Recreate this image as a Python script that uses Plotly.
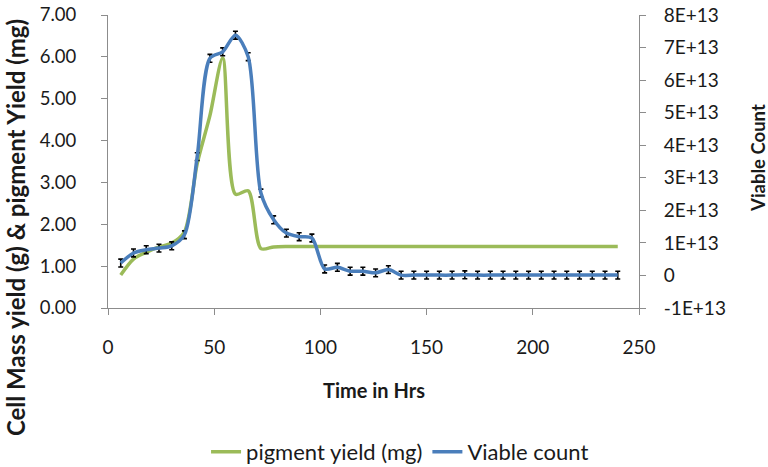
import plotly.graph_objects as go

time_hrs = [6, 12, 18, 24, 30, 36, 42, 48, 54, 60, 66, 72, 78, 84, 90, 96, 102, 108,
            114, 120, 126, 132, 138, 144, 150, 156, 162, 168, 174, 180, 186, 192,
            198, 204, 210, 216, 222, 228, 234, 240]

pigment_yield = [0.79, 1.17, 1.33, 1.46, 1.55, 1.82, 3.45, 4.6, 5.97, 2.72, 2.80, 1.42,
                 1.46, 1.47, 1.47, 1.47, 1.47, 1.47, 1.47, 1.47, 1.47, 1.47, 1.47, 1.47,
                 1.47, 1.47, 1.47, 1.47, 1.47, 1.47, 1.47, 1.47, 1.47, 1.47, 1.47, 1.47,
                 1.47, 1.47, 1.47, 1.47]

viable_count = [0.38e13, 0.69e13, 0.79e13, 0.84e13, 0.91e13, 1.25e13, 3.65e13, 6.67e13,
                6.87e13, 7.38e13, 6.72e13, 2.53e13, 1.71e13, 1.30e13, 1.19e13, 1.15e13,
                0.20e13, 0.25e13, 0.13e13, 0.13e13, 0.08e13, 0.18e13, 0.01e13, 0.01e13,
                0.01e13, 0.01e13, 0.01e13, 0.02e13, 0.01e13, 0.01e13, 0.01e13, 0.01e13,
                0.01e13, 0.01e13, 0.01e13, 0.01e13, 0.01e13, 0.01e13, 0.01e13, 0.01e13]

viable_err = [0.12e13] * len(time_hrs)

left_ticks = [0, 1, 2, 3, 4, 5, 6, 7]
right_tickvals = [-1e13, 0, 1e13, 2e13, 3e13, 4e13, 5e13, 6e13, 7e13, 8e13]
right_ticktext = ["-1E+13", "0", "1E+13", "2E+13", "3E+13", "4E+13", "5E+13",
                  "6E+13", "7E+13", "8E+13"]
x_ticks = [0, 50, 100, 150, 200, 250]

FONT = "Lato"
AXIS_COLOR = "#8c8c8c"
TEXT_COLOR = "#1a1a1a"

fig = go.Figure()
fig.add_trace(go.Scatter(
    x=time_hrs, y=pigment_yield, name="pigment yield (mg)", mode="lines",
    line=dict(color="#9BBB59", width=3.5, shape="spline", smoothing=0.8),
    yaxis="y"))
fig.add_trace(go.Scatter(
    x=time_hrs, y=viable_count, name="Viable count", mode="lines",
    line=dict(color="#4A7EBB", width=3.5, shape="spline", smoothing=0.8),
    error_y=dict(type="data", array=viable_err, visible=True, color="black",
                 thickness=1.6, width=2.5),
    yaxis="y2"))

fig.update_layout(
    width=768, height=467,
    margin=dict(l=108, r=129, t=15, b=159, autoexpand=False),
    paper_bgcolor="white", plot_bgcolor="white",
    font=dict(family=FONT, size=19, color=TEXT_COLOR),
    showlegend=True,
    legend=dict(orientation="h", x=0.55, xanchor="center", y=-0.491, yanchor="middle",
                font=dict(family=FONT, size=22), traceorder="normal"),
    xaxis=dict(range=[0, 250], tickvals=x_ticks, showgrid=False, zeroline=False,
               showline=True, linecolor=AXIS_COLOR, linewidth=1,
               ticks="outside", ticklen=6, tickcolor=AXIS_COLOR,
               tickfont=dict(size=19), ticklabelstandoff=16,
               ticklabeloverflow="allow"),
    yaxis=dict(range=[0, 7], tickvals=left_ticks, tickformat=".2f", showgrid=False,
               zeroline=False, showline=True, linecolor=AXIS_COLOR, linewidth=1,
               ticks="outside", ticklen=6, tickcolor=AXIS_COLOR,
               tickfont=dict(size=18.5), ticklabelstandoff=21,
               ticklabeloverflow="allow"),
    yaxis2=dict(range=[-1e13, 8e13], tickvals=right_tickvals, ticktext=right_ticktext,
                overlaying="y", side="right", showgrid=False, zeroline=False,
                showline=True, linecolor=AXIS_COLOR, linewidth=1,
                ticks="outside", ticklen=6, tickcolor=AXIS_COLOR,
                tickfont=dict(size=19), ticklabelstandoff=14,
                ticklabeloverflow="allow"),
    annotations=[
        dict(text="<b>Cell Mass yield (g) & pigment Yield (mg)</b>", textangle=-90,
             xref="paper", yref="paper", x=-0.175, y=0.273, xanchor="center",
             yanchor="middle", showarrow=False, font=dict(size=24, color=TEXT_COLOR)),
        dict(text="<b>Viable Count</b>", textangle=-90,
             xref="paper", yref="paper", x=1.224, y=0.512, xanchor="center",
             yanchor="middle", showarrow=False, font=dict(size=18.5, color=TEXT_COLOR)),
        dict(text="<b>Time in Hrs</b>",
             xref="paper", yref="paper", x=0.5, y=-0.28, xanchor="center",
             yanchor="middle", showarrow=False, font=dict(size=20, color=TEXT_COLOR)),
    ],
)

# remove the browser's default 8px body margin so the figure fills the window
fig.write_html("out.html", config={"displayModeBar": False},
               post_script="document.body.style.margin='0px';")
